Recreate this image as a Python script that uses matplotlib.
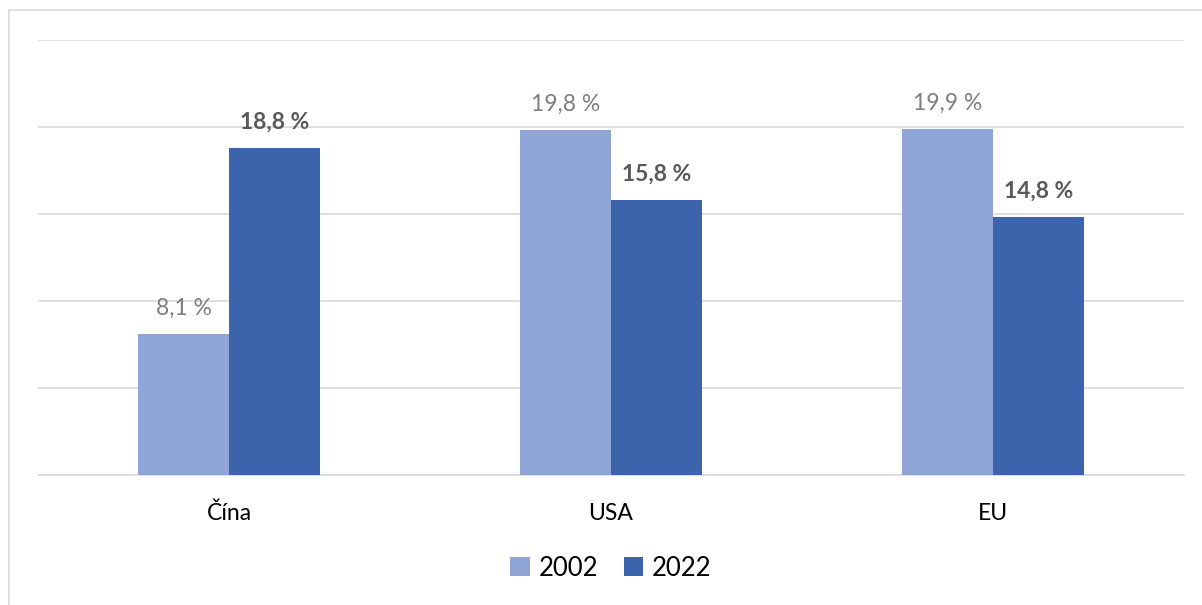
import matplotlib.pyplot as plt
import numpy as np
from matplotlib.patches import Rectangle

regions = ["Čína", "USA", "EU"]
years = ["2002", "2022"]
share_2002 = [8.1, 19.8, 19.9]
share_2022 = [18.8, 15.8, 14.8]

colors = ["#8FA5D5", "#3B64AD"]
plt.rcParams['font.family'] = ['Lato', 'DejaVu Sans']

fig = plt.figure(figsize=(12.02, 6.05), dpi=100)
W, H = 1202, 605
ax = fig.add_axes([38 / W, 1 - 475 / H, (1184 - 38) / W, (475 - 40) / H])

# chart frame
fig.patches.append(Rectangle((9 / W, -0.1), 1.2, 1 - 10 / H + 0.1, transform=fig.transFigure,
                             fill=False, edgecolor="#D9D9D9", linewidth=1.2))

x = np.arange(len(regions))
w = 0.238
b1 = ax.bar(x - w / 2, share_2002, w, color=colors[0], label=years[0], zorder=3)
b2 = ax.bar(x + w / 2, share_2022, w, color=colors[1], label=years[1], zorder=3)

for rect, v in zip(b1, share_2002):
    ax.annotate(f"{v:.1f} %".replace(".", ","), (rect.get_x() + rect.get_width() / 2, v),
                xytext=(0, 11), textcoords="offset points", ha="center", va="bottom",
                fontsize=16.5, color="#7F7F7F")
for rect, v in zip(b2, share_2022):
    ax.annotate(f"{v:.1f} %".replace(".", ","), (rect.get_x() + rect.get_width() / 2, v),
                xytext=(0, 11), textcoords="offset points", ha="center", va="bottom",
                fontsize=16.5, color="#595959", fontweight="bold")

ax.set_xlim(-0.5, 2.5)
ax.set_ylim(0, 25)
ax.set_yticks([0, 5, 10, 15, 20, 25])
ax.yaxis.grid(True, color="#D9D9D9", linewidth=1.2, zorder=0)
ax.tick_params(axis="y", left=False, labelleft=False)
ax.set_xticks(x)
ax.set_xticklabels(regions, fontsize=16.5, color="#000000")
ax.tick_params(axis="x", length=0, pad=20)
for s in ["top", "right", "left"]:
    ax.spines[s].set_visible(False)
ax.spines["bottom"].set_color("#D9D9D9")
ax.spines["bottom"].set_linewidth(1.2)

fig.legend(loc="center", bbox_to_anchor=(611 / W, 1 - 568 / H), ncol=2, frameon=False,
           fontsize=18.5, handlelength=0.75, handleheight=0.75, handletextpad=0.35, columnspacing=1.0)

fig.savefig("out.png", dpi=100, facecolor="white")
